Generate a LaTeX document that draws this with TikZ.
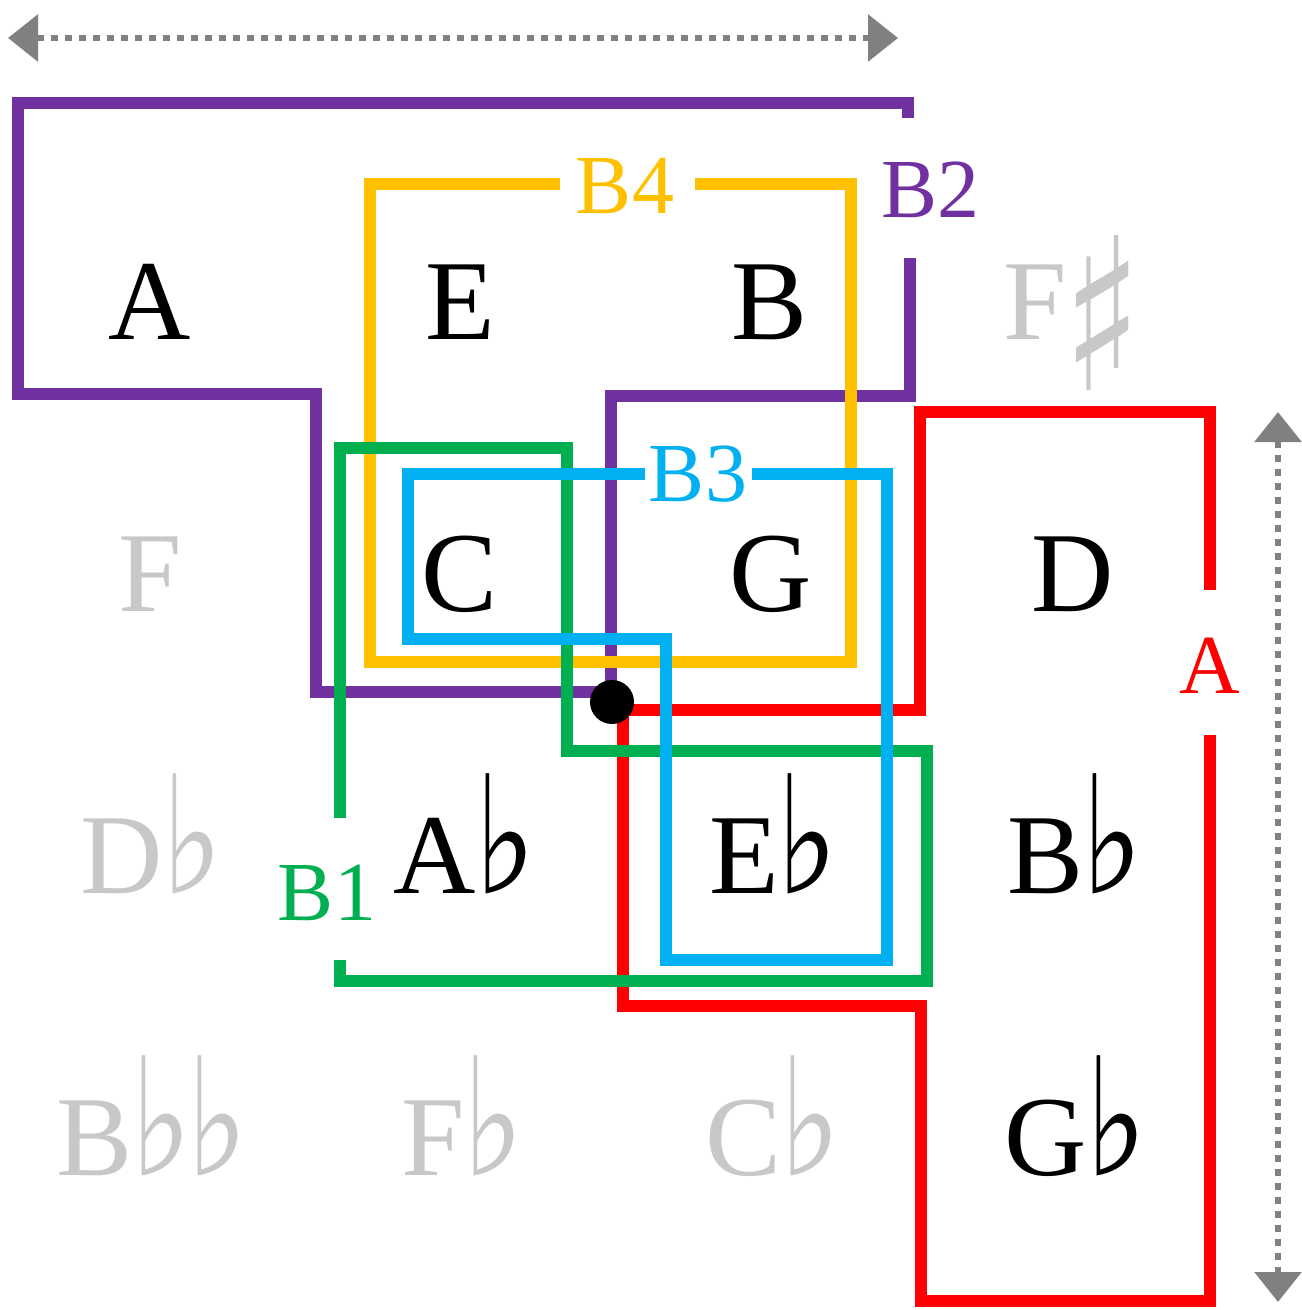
\documentclass[tikz,border=0pt]{standalone}
\usepackage{fontspec}
\usepackage{graphicx}
\setmainfont{Liberation Serif}
\newfontfamily\symfontb{DejaVu Sans Bold}
\usetikzlibrary{arrows.meta}
\definecolor{cpurple}{HTML}{7030A0}
\definecolor{cyellow}{HTML}{FFC000}
\definecolor{cgreen}{HTML}{00B050}
\definecolor{cblue}{HTML}{00B0F0}
\definecolor{cred}{HTML}{FF0000}
\definecolor{cgray}{HTML}{C8C8C8}
\definecolor{carrow}{HTML}{808080}
\newcommand{\fl}{\kern-1pt\scalebox{0.8}[1]{\symfontb\fontsize{82pt}{82pt}\selectfont ♭}\kern-2pt}
\newcommand{\shp}{\kern-2pt\raisebox{-25pt}{\scalebox{0.78}[1]{\symfontb\fontsize{106pt}{106pt}\selectfont ♯}}}
\begin{document}
\begin{tikzpicture}[x=0.5pt,y=-0.5pt,
  note/.style={anchor=base, inner sep=0pt, font=\fontsize{57pt}{57pt}\selectfont, text=black},
  faint/.style={note, text=cgray},
  lbl/.style={inner sep=0pt, font=\fontsize{42pt}{42pt}\selectfont},
  region/.style={line width=6pt, line join=miter},
  dim/.style={carrow, line width=3pt, dash pattern=on 3.5pt off 3.5pt,
    {Triangle[length=15pt,width=23pt]}-{Triangle[length=15pt,width=23pt]}}
]
\useasboundingbox (0,0) rectangle (1301,1310);
% notes
\node[note]  (nA)  at (150,340) {A};
\node[note]  (nE)  at (460,340) {E};
\node[note]  (nB)  at (770,340) {B};
\node[faint] (nFs) at (1073,340) {F\shp};
\node[faint] (nF)  at (150,611) {F};
\node[note]  (nC)  at (460,611) {C};
\node[note]  (nG)  at (771,611) {G};
\node[note]  (nD)  at (1073,611) {D};
\node[faint] (nDb) at (150,893) {D\fl};
\node[note]  (nAb) at (463,893) {A\fl};
\node[note]  (nEb) at (772,893) {E\fl};
\node[note]  (nBb) at (1073,893) {B\fl};
\node[faint] (nBbb) at (150,1175) {B\fl\fl};
\node[faint] (nFb) at (461,1175) {F\fl};
\node[faint] (nCb) at (771,1175) {C\fl};
\node[note]  (nGb) at (1074,1175) {G\fl};
% regions
\draw[region, cpurple] (908,118) -- (908,103) -- (18,103) -- (18,394) -- (316,394)
  -- (316,692) -- (611,692) -- (611,396) -- (910,396) -- (910,258);
\draw[region, cyellow] (560,184) -- (370,184) -- (370,662) -- (851,662) -- (851,184) -- (695,184);
\draw[region, cred] (1210,590) -- (1210,412) -- (920,412) -- (920,710) -- (623,710)
  -- (623,1006) -- (921,1006) -- (921,1301) -- (1210,1301) -- (1210,735);
\draw[region, cgreen] (340,818) -- (340,448) -- (567,448) -- (567,751) -- (927,751)
  -- (927,981) -- (340,981) -- (340,960);
\draw[region, cblue] (645,474) -- (408,474) -- (408,639) -- (666,639) -- (666,960)
  -- (887,960) -- (887,474) -- (752,474);
\node[fill=black, circle, minimum size=22pt, inner sep=0pt] (dot) at (612,702) {};
% labels
\node[lbl, text=cpurple] (lB2) at (930,190) {B2};
\node[lbl, text=cyellow] (lB4) at (625,186) {B4};
\node[lbl, text=cblue]   (lB3) at (698,474) {B3};
\node[lbl, text=cgreen]  (lB1) at (327,893) {B1};
\node[lbl, text=cred]    (lA)  at (1210,666) {A};
% dimension arrows
\coordinate (hl) at (8,38);
\coordinate (hr) at (898,38);
\coordinate (vt) at (1278,412);
\coordinate (vb) at (1278,1302);
\draw[dim] (hl) -- (hr);
\draw[dim] (vt) -- (vb);
\end{tikzpicture}
\end{document}
